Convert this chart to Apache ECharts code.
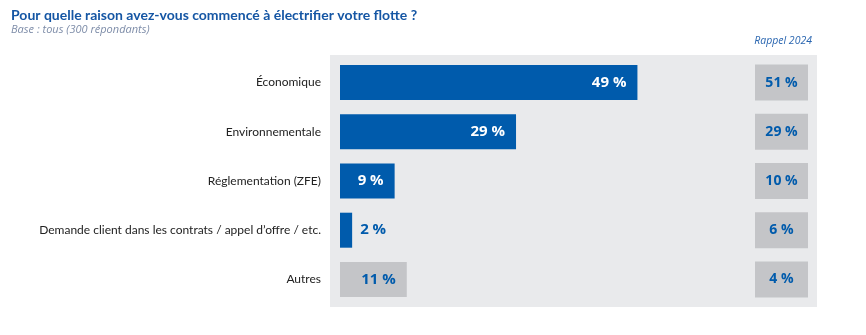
<!DOCTYPE html>
<html><head><meta charset="utf-8">
<script src="https://cdn.jsdelivr.net/npm/echarts@6/dist/echarts.min.js"></script>
<style>html,body{margin:0;padding:0;background:#fff}#c{width:866px;height:335px}</style>
</head><body><div id="c"></div>
<script>
const categories = ['Économique', 'Environnementale', 'Réglementation (ZFE)', 'Demande client dans les contrats / appel d\u2019offre / etc.', 'Autres'];
const values2025 = [49, 29, 9, 2, 11];
const values2024 = [51, 29, 10, 6, 4];
const titleText = 'Pour quelle raison avez-vous commencé à électrifier votre flotte ?';
const subtitleText = 'Base : tous (300 répondants)';
const recallLabel = 'Rappel 2024';

const BLUE = '#005bac', GREY = '#c4c5c8', PANEL = '#e9eaec';
const FONT = 'Lato';
const NUMFONT = 'Open Sans';
const fmt = v => v + ' %';

const mainData = values2025.map((v, i) => {
  const isOther = i === values2025.length - 1;
  const small = v < 5;
  return {
    value: v,
    itemStyle: { color: isOther ? GREY : BLUE },
    label: small ? { position: 'right', distance: 8, color: BLUE }
                 : { position: 'insideRight', distance: 11, color: isOther ? BLUE : '#fff' }
  };
});

const chart = echarts.init(document.getElementById('c'), null, { renderer: 'canvas' });
chart.setOption({
  animation: false,
  backgroundColor: '#fff',
  title: [
    { text: titleText, left: 11, top: 8, padding: 0, textStyle: { fontFamily: FONT, fontSize: 14, fontWeight: 'bold', color: '#1556a4' } },
    { text: subtitleText, left: 11, top: 24, padding: 0, textStyle: { fontFamily: NUMFONT, fontSize: 11, fontStyle: 'italic', fontWeight: 'normal', color: '#7d8ca8' } },
    { text: recallLabel, right: 54, top: 36, padding: 0, textStyle: { fontFamily: NUMFONT, fontSize: 10.5, fontStyle: 'italic', fontWeight: 'normal', color: '#2a66b0' } }
  ],
  graphic: [
    { type: 'rect', left: 330, top: 55, shape: { width: 487, height: 252 }, style: { fill: PANEL }, z: -10, silent: true }
  ],
  grid: [
    { left: 340, top: 58, width: 303.5, height: 246 },
    { left: 755, top: 58, width: 53, height: 246 }
  ],
  xAxis: [
    { type: 'value', gridIndex: 0, min: 0, max: 50, show: false },
    { type: 'value', gridIndex: 1, min: 0, max: 1, show: false }
  ],
  yAxis: [
    { type: 'category', gridIndex: 0, data: categories, inverse: true,
      axisLine: { show: false }, axisTick: { show: false }, splitLine: { show: false },
      axisLabel: { margin: 19, fontFamily: FONT, fontSize: 12, color: '#222' } },
    { type: 'category', gridIndex: 1, data: categories, inverse: true, show: false }
  ],
  series: [
    { type: 'bar', xAxisIndex: 0, yAxisIndex: 0, barWidth: 35, data: mainData,
      label: { show: true, formatter: p => fmt(p.value), fontFamily: NUMFONT, fontSize: 15, fontWeight: 'bold' } },
    { type: 'bar', xAxisIndex: 1, yAxisIndex: 1, barWidth: 36,
      data: values2024.map(() => 1),
      itemStyle: { color: GREY },
      label: { show: true, position: 'inside', formatter: p => fmt(values2024[p.dataIndex]),
               fontFamily: NUMFONT, fontSize: 14, fontWeight: 'bold', color: BLUE } }
  ]
});
</script></body></html>
